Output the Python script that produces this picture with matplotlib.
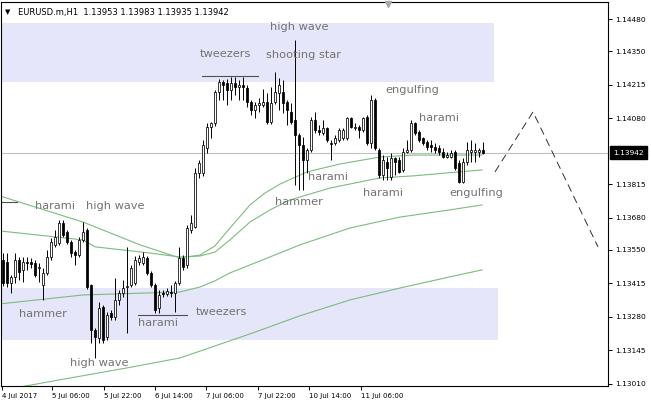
import numpy as np
import matplotlib.pyplot as plt
from matplotlib import transforms

# EURUSD H1 candles
opens = [1.13509, 1.13501, 1.13417, 1.13441, 1.13509, 1.13469, 1.13501, 1.13501, 1.13497, 1.13477,
         1.13408, 1.13457, 1.13521, 1.13570, 1.13578, 1.13658, 1.13622, 1.13582, 1.13541, 1.13529,
         1.13590, 1.13630, 1.13408, 1.13227, 1.13195, 1.13320, 1.13199, 1.13296, 1.13280, 1.13348,
         1.13376, 1.13400, 1.13408, 1.13417, 1.13501, 1.13497, 1.13517, 1.13457, 1.13408, 1.13316,
         1.13376, 1.13372, 1.13380, 1.13376, 1.13417, 1.13517, 1.13489, 1.13630, 1.13642, 1.13860,
         1.13860, 1.13961, 1.14045, 1.14061, 1.14186, 1.14227, 1.14223, 1.14194, 1.14223, 1.14206,
         1.14214, 1.14202, 1.14146, 1.14114, 1.14134, 1.14134, 1.14146, 1.14065, 1.14146, 1.14182,
         1.14186, 1.14146, 1.14106, 1.14073, 1.14013, 1.13973, 1.13912, 1.13953, 1.14073, 1.14033,
         1.14021, 1.14041, 1.13981, 1.13981, 1.13993, 1.14001, 1.14001, 1.14081, 1.14041, 1.14045,
         1.14033, 1.14085, 1.13981, 1.14154, 1.13953, 1.13852, 1.13904, 1.13844, 1.13920, 1.13912,
         1.13872, 1.13944, 1.13953, 1.14061, 1.14025, 1.14001, 1.13985, 1.13973, 1.13965, 1.13961,
         1.13944, 1.13924, 1.13924, 1.13944, 1.13900, 1.13823, 1.13904, 1.13944, 1.13944, 1.13944,
         1.13953]
highs = [1.13537, 1.13537, 1.13449, 1.13537, 1.13521, 1.13521, 1.13521, 1.13517, 1.13509, 1.13497,
         1.13477, 1.13550, 1.13598, 1.13630, 1.13670, 1.13670, 1.13630, 1.13590, 1.13550, 1.13602,
         1.13662, 1.13638, 1.13412, 1.13235, 1.13340, 1.13328, 1.13300, 1.13308, 1.13437, 1.13388,
         1.13429, 1.13562, 1.13489, 1.13525, 1.13529, 1.13541, 1.13525, 1.13465, 1.13417, 1.13388,
         1.13388, 1.13396, 1.13408, 1.13425, 1.13562, 1.13529, 1.13650, 1.13691, 1.13880, 1.13912,
         1.13993, 1.14061, 1.14065, 1.14194, 1.14239, 1.14235, 1.14239, 1.14247, 1.14247, 1.14235,
         1.14247, 1.14214, 1.14154, 1.14146, 1.14162, 1.14198, 1.14182, 1.14206, 1.14267, 1.14243,
         1.14235, 1.14154, 1.14142, 1.14396, 1.14021, 1.14005, 1.13961, 1.14085, 1.14106, 1.14053,
         1.14073, 1.14045, 1.13993, 1.14013, 1.14041, 1.14041, 1.14085, 1.14085, 1.14061, 1.14053,
         1.14085, 1.14094, 1.14174, 1.14162, 1.13961, 1.13932, 1.13924, 1.13940, 1.13924, 1.13924,
         1.13961, 1.13993, 1.14073, 1.14065, 1.14033, 1.14005, 1.13993, 1.13993, 1.13981, 1.13973,
         1.13961, 1.13944, 1.13953, 1.13953, 1.13912, 1.13920, 1.13985, 1.13993, 1.13981, 1.13961,
         1.13983]
lows = [1.13404, 1.13400, 1.13376, 1.13417, 1.13429, 1.13421, 1.13469, 1.13477, 1.13441, 1.13421,
        1.13348, 1.13449, 1.13509, 1.13562, 1.13570, 1.13602, 1.13574, 1.13521, 1.13489, 1.13521,
        1.13582, 1.13392, 1.13175, 1.13114, 1.13175, 1.13175, 1.13187, 1.13267, 1.13267, 1.13328,
        1.13360, 1.13215, 1.13400, 1.13408, 1.13489, 1.13489, 1.13449, 1.13400, 1.13296, 1.13296,
        1.13360, 1.13364, 1.13360, 1.13300, 1.13408, 1.13469, 1.13477, 1.13618, 1.13638, 1.13840,
        1.13848, 1.13940, 1.14001, 1.14049, 1.14154, 1.14154, 1.14134, 1.14154, 1.14174, 1.14154,
        1.14154, 1.14126, 1.14094, 1.14081, 1.14106, 1.14126, 1.14057, 1.14057, 1.14138, 1.14114,
        1.14102, 1.14053, 1.14057, 1.13811, 1.13791, 1.13791, 1.13860, 1.13944, 1.14021, 1.14013,
        1.14013, 1.13985, 1.13912, 1.13973, 1.13985, 1.13993, 1.13993, 1.14041, 1.14033, 1.14001,
        1.14025, 1.13973, 1.13961, 1.13953, 1.13840, 1.13832, 1.13832, 1.13832, 1.13852, 1.13860,
        1.13864, 1.13940, 1.13944, 1.14013, 1.13985, 1.13973, 1.13953, 1.13944, 1.13940, 1.13932,
        1.13920, 1.13920, 1.13920, 1.13872, 1.13820, 1.13820, 1.13892, 1.13904, 1.13904, 1.13924,
        1.13935]
closes = [1.13417, 1.13417, 1.13441, 1.13509, 1.13461, 1.13501, 1.13497, 1.13493, 1.13449, 1.13481,
          1.13457, 1.13521, 1.13582, 1.13602, 1.13658, 1.13610, 1.13582, 1.13537, 1.13529, 1.13590,
          1.13622, 1.13400, 1.13227, 1.13199, 1.13316, 1.13187, 1.13288, 1.13280, 1.13348, 1.13376,
          1.13396, 1.13404, 1.13477, 1.13509, 1.13517, 1.13521, 1.13457, 1.13408, 1.13308, 1.13368,
          1.13372, 1.13384, 1.13376, 1.13417, 1.13517, 1.13481, 1.13638, 1.13658, 1.13860, 1.13900,
          1.13973, 1.14045, 1.14061, 1.14186, 1.14227, 1.14214, 1.14194, 1.14223, 1.14206, 1.14214,
          1.14206, 1.14146, 1.14114, 1.14134, 1.14142, 1.14146, 1.14065, 1.14142, 1.14186, 1.14214,
          1.14142, 1.14114, 1.14065, 1.14013, 1.13973, 1.13912, 1.13953, 1.14073, 1.14033, 1.14025,
          1.14041, 1.13993, 1.13977, 1.14001, 1.14033, 1.14033, 1.14081, 1.14045, 1.14045, 1.14033,
          1.14081, 1.13981, 1.14154, 1.13961, 1.13852, 1.13912, 1.13880, 1.13920, 1.13904, 1.13864,
          1.13944, 1.13953, 1.14061, 1.14021, 1.13993, 1.13981, 1.13965, 1.13965, 1.13953, 1.13944,
          1.13924, 1.13932, 1.13940, 1.13880, 1.13823, 1.13904, 1.13953, 1.13953, 1.13953, 1.13953,
          1.13942]
last_price = 1.13942

# moving averages (bar index, price) vertices
ma1_x = [-0.75, 20, 34.25, 44.25, 49.25, 53, 56.75, 61.75, 65.5, 69.25, 76, 84.25, 94.25, 102.5, 119.75]
ma1_y = [1.13767, 1.13662, 1.13570, 1.13517, 1.13529, 1.13566, 1.13638, 1.13731, 1.13779, 1.13815,
         1.13864, 1.13896, 1.13924, 1.13932, 1.13932]
ma2_x = [-0.75, 20, 23, 36.75, 44.25, 49.25, 53, 56.75, 61.75, 66.75, 71.75, 81.75, 94.25, 102.5, 119.75]
ma2_y = [1.13626, 1.13590, 1.13562, 1.13537, 1.13521, 1.13525, 1.13541, 1.13590, 1.13662, 1.13711,
         1.13751, 1.13799, 1.13840, 1.13848, 1.13872]
ma3_x = [-0.75, 20, 44.25, 49.25, 53, 56.75, 61.75, 74.25, 86.75, 99.25, 111.75, 119.75]
ma3_y = [1.13332, 1.13368, 1.13380, 1.13400, 1.13425, 1.13457, 1.13489, 1.13570, 1.13638, 1.13682,
         1.13711, 1.13731]
ma4_x = [-0.75, 4.25, 14.25, 31, 44.25, 61.75, 74.25, 86.75, 99.25, 111.75, 119.75]
ma4_y = [1.12975, 1.12997, 1.13026, 1.13074, 1.13114, 1.13211, 1.13284, 1.13348, 1.13396, 1.13441, 1.13469]

# projected zigzag
proj_x = [123, 132.5, 148.75]
proj_y = [1.13864, 1.14106, 1.13562]

# zones and pattern lines
zone_hi = (1.14226, 1.14464, 122.75)
zone_lo = (1.13187, 1.13397, 123.75)
level_lines = [(-0.75, 3.5, 1.13743), (49.75, 63.75, 1.14251), (33.75, 46, 1.13288)]

patterns = [("harami", 8.0, 1.13727), ("high wave", 20.75, 1.13727), ("hammer", 4.0, 1.13292),
            ("high wave", 16.75, 1.13094), ("harami", 33.75, 1.13255), ("tweezers", 48.25, 1.13300),
            ("tweezers", 49.25, 1.14339), ("high wave", 66.75, 1.14448), ("shooting star", 65.75, 1.14335),
            ("engulfing", 95.5, 1.14194), ("harami", 104, 1.14081), ("harami", 76.25, 1.13844),
            ("hammer", 68, 1.13743), ("harami", 90, 1.13779), ("engulfing", 111.5, 1.13779)]

price_ticks = [1.14480, 1.14350, 1.14215, 1.14080, 1.13815, 1.13680, 1.13550, 1.13415, 1.13280, 1.13145, 1.13010]
time_pos = [-0.25, 12.25, 25.25, 38, 50.75, 63.75, 76.5, 89.5]
time_labels = ["4 Jul 2017", "5 Jul 06:00", "5 Jul 22:00", "6 Jul 14:00", "7 Jul 06:00",
               "7 Jul 22:00", "10 Jul 14:00", "11 Jul 06:00"]

fig = plt.figure(figsize=(6.51, 4.07), dpi=100)
ax = fig.add_axes([1 / 651, 21 / 407, 607 / 651, 384 / 407])

ax.set_xlim(-0.5, 151.25)
ax.set_ylim(1.13001, 1.14549)

lav = '#e6e6fa'
ax.fill_between([-0.75, zone_hi[2]], zone_hi[0], zone_hi[1], color=lav, lw=0, zorder=0)
ax.fill_between([-0.75, zone_lo[2]], zone_lo[0], zone_lo[1], color=lav, lw=0, zorder=0)

ax.axhline(last_price, color='#c0c0c0', lw=0.8, zorder=1)

green = '#7dbb7d'
for mx, my in [(ma1_x, ma1_y), (ma2_x, ma2_y), (ma3_x, ma3_y), (ma4_x, ma4_y)]:
    ax.plot(mx, my, color=green, lw=0.8, zorder=2)

ax.plot(proj_x, proj_y, color='#303030', lw=0.7, dashes=(8, 5), zorder=2)

for x0, x1, y in level_lines:
    ax.plot([x0, x1], [y, y], color='#505050', lw=0.8, zorder=2)

o = np.array(opens)
c = np.array(closes)
x = np.arange(len(o))
ax.vlines(x, lows, highs, color='black', lw=0.7, zorder=3)
up = c >= o
bottom = np.minimum(o, c)
height = np.maximum(np.abs(c - o), 0.00002)
ax.bar(x[up], height[up], bottom=bottom[up], width=0.62, color='white',
       edgecolor='black', linewidth=0.55, zorder=4)
ax.bar(x[~up], height[~up], bottom=bottom[~up], width=0.62, color='black',
       edgecolor='black', linewidth=0.55, zorder=4)

for s, px, py in patterns:
    ax.text(px, py, s, fontsize=8.2, color='#737373', ha='left', va='center', zorder=5)

ax.yaxis.tick_right()
ax.set_yticks(price_ticks)
ax.set_yticklabels(['%.5f' % v for v in price_ticks])
ax.tick_params(axis='y', direction='out', length=3, width=0.7, labelsize=5.4, pad=2)
ax.set_xticks(time_pos)
ax.set_xticklabels(time_labels)
ax.tick_params(axis='x', direction='out', length=3, width=0.7, labelsize=5.0, pad=2)
for lbl in ax.get_xticklabels():
    lbl.set_ha('left')
for sp in ax.spines.values():
    sp.set_color('black')
    sp.set_linewidth(0.8)

trans = transforms.blended_transform_factory(ax.transAxes, ax.transData)
ax.text(1.0085, last_price, '%.5f' % last_price, transform=trans, ha='left', va='center',
        fontsize=5.4, color='white', zorder=6,
        bbox=dict(boxstyle='square,pad=0.45', fc='black', ec='black'))

ax.plot([96.25], [1.14541], marker='v', color='#a8a8a8', markersize=5, clip_on=False, zorder=6)

fig.text(5 / 651, 1 - 12 / 407, '\u25bc', fontsize=5, va='center', color='black')
fig.text(18 / 651, 1 - 12 / 407, 'EURUSD.m,H1  1.13953 1.13983 1.13935 1.13942',
         fontsize=6, va='center', color='black')

fig.savefig('out.png', dpi=100)
